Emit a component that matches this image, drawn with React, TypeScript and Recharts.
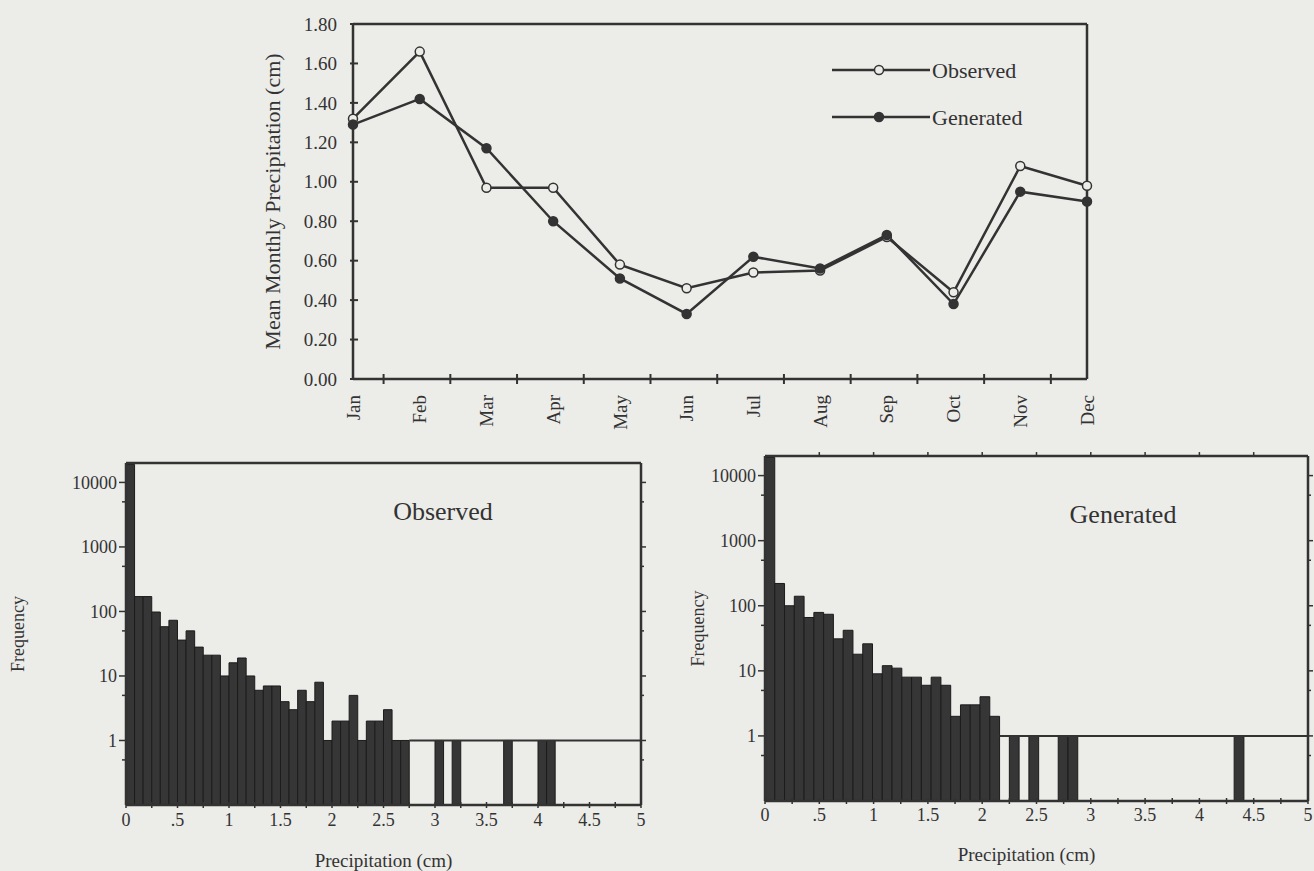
import React from 'react';
import { LineChart, Line, BarChart, Bar, XAxis, YAxis, Legend, ReferenceLine } from 'recharts';

const MONTHS = ['Jan', 'Feb', 'Mar', 'Apr', 'May', 'Jun', 'Jul', 'Aug', 'Sep', 'Oct', 'Nov', 'Dec'];
const OBSERVED_MEAN = [1.32, 1.66, 0.97, 0.97, 0.58, 0.46, 0.54, 0.55, 0.72, 0.44, 1.08, 0.98];
const GENERATED_MEAN = [1.29, 1.42, 1.17, 0.8, 0.51, 0.33, 0.62, 0.56, 0.73, 0.38, 0.95, 0.9];
const MEAN_TICKS = [0, 0.2, 0.4, 0.6, 0.8, 1, 1.2, 1.4, 1.6, 1.8];
const LEGEND_ORDER = ['Observed', 'Generated'];

// daily precipitation histograms: class width (cm) and counts per class
const OBS_BIN = 1 / 12;
const OBS_FREQ = [
  19000, 170, 170, 98, 58, 73, 36, 50, 28, 21, 21, 10, 16, 19, 10, 6, 7, 7, 4, 3, 6, 4, 8, 1, 2, 2, 5, 1, 2, 2,
  3, 1, 1, 0, 0, 0, 1, 0, 1, 0, 0, 0, 0, 0, 1, 0, 0, 0, 1, 1,
];
const GEN_BIN = 0.09;
const GEN_FREQ = [
  19000, 220, 100, 140, 66, 79, 74, 31, 42, 18, 26, 9, 12, 11, 8, 8, 6, 8, 6, 2, 3, 3, 4, 2, 0, 1, 0, 1, 0, 0,
  1, 1, 0, 0, 0, 0, 0, 0, 0, 0, 0, 0, 0, 0, 0, 0, 0, 0, 1,
];
const FREQ_MIN = 0.1;
const FREQ_MAX = 20000;
const FREQ_TICKS = [0.5, 1, 5, 10, 50, 100, 500, 1000, 5000, 10000];
const FREQ_LABELED = [1, 10, 100, 1000, 10000];
const PRECIP_MAX = 5;
const PRECIP_TICKS = [0, 0.25, 0.5, 0.75, 1, 1.25, 1.5, 1.75, 2, 2.25, 2.5, 2.75, 3, 3.25, 3.5, 3.75, 4, 4.25, 4.5, 4.75, 5];
const PRECIP_LABELS = ['0', '.5', '1', '1.5', '2', '2.5', '3', '3.5', '4', '4.5', '5'];

const PAPER = '#ecece9';
const INK = '#333333';
const BAR_FILL = '#363636';
const FONT = '"Liberation Serif", "Times New Roman", serif';
const AXIS = { stroke: INK, strokeWidth: 2.5 };

const meanData = MONTHS.map((month, i) => ({
  month,
  observed: OBSERVED_MEAN[i],
  generated: GENERATED_MEAN[i],
}));

const TOP_PLOT_W = 734;
const BAND = TOP_PLOT_W / MONTHS.length;

const isHalf = (v: number) => Math.abs(v * 2 - Math.round(v * 2)) < 1e-6;

function MeanTick({ x, y, payload }: any) {
  return (
    <g>
      <line x1={x - 3} x2={x + 5} y1={y} y2={y} stroke={INK} strokeWidth={2} />
      <text x={x - 16} y={y} dy="0.35em" textAnchor="end" fontSize={19} fill={INK} fontFamily={FONT}>
        {Number(payload.value).toFixed(2)}
      </text>
    </g>
  );
}

function MonthTick({ x, y, payload, index }: any) {
  const ly = y + 16;
  return (
    <g>
      {index < MONTHS.length - 1 && (
        <line x1={x + BAND / 2} x2={x + BAND / 2} y1={y - 5} y2={y + 5} stroke={INK} strokeWidth={2} />
      )}
      <text
        x={x}
        y={ly}
        dy="0.35em"
        transform={`rotate(-90 ${x} ${ly})`}
        textAnchor="end"
        fontSize={19}
        fill={INK}
        fontFamily={FONT}
      >
        {payload.value}
      </text>
    </g>
  );
}

function MeanLegend({ payload }: any) {
  const items = [...(payload || [])].sort(
    (a: any, b: any) => LEGEND_ORDER.indexOf(a.value) - LEGEND_ORDER.indexOf(b.value)
  );
  return (
    <svg width={200} height={80}>
      {items.map((entry: any, i: number) => {
        const cy = 15 + i * 47;
        const filled = entry.dataKey === 'generated';
        return (
          <g key={entry.value}>
            <line x1={0} x2={98} y1={cy} y2={cy} stroke={INK} strokeWidth={2.5} />
            <circle cx={47} cy={cy} r={4.5} fill={filled ? INK : PAPER} stroke={INK} strokeWidth={1.5} />
            <text x={100} y={cy} dy="0.35em" fontSize={22} fill={INK} fontFamily={FONT}>
              {entry.value}
            </text>
          </g>
        );
      })}
    </svg>
  );
}

function FreqTick({ x, y, payload }: any) {
  const major = FREQ_LABELED.includes(payload.value);
  return (
    <g>
      <line x1={x - (major ? 7 : 4)} x2={x} y1={y} y2={y} stroke={INK} strokeWidth={1.5} />
      {major && (
        <text x={x - 9} y={y} dy="0.35em" textAnchor="end" fontSize={18} fill={INK} fontFamily={FONT}>
          {payload.value}
        </text>
      )}
    </g>
  );
}

function FreqRightTick({ x, y, payload }: any) {
  const major = FREQ_LABELED.includes(payload.value);
  return <line x1={x} x2={x + (major ? 5 : 3)} y1={y} y2={y} stroke={INK} strokeWidth={1.5} />;
}

function PrecipTick({ x, y, payload, gap }: any) {
  const v = payload.value;
  return (
    <g>
      <line x1={x} x2={x} y1={y - 3} y2={y + 3} stroke={INK} strokeWidth={1.5} />
      {isHalf(v) && (
        <text x={x} y={y + gap} dy="0.35em" textAnchor="middle" fontSize={18} fill={INK} fontFamily={FONT}>
          {PRECIP_LABELS[Math.round(v * 2)]}
        </text>
      )}
    </g>
  );
}

interface HistProps {
  freq: number[];
  bin: number;
  title: string;
  left: number;
  top: number;
  width: number;
  height: number;
  margin: { top: number; right: number; bottom: number; left: number };
  yAxisWidth: number;
  xAxisHeight: number;
  rightWidth: number;
  freqLabelOffset: number;
  tickGap: number;
  titleX: number;
  titleY: number;
  labelDx?: number;
  topTicks?: boolean;
}

function Histogram(p: HistProps) {
  const data = p.freq.map((f, k) => ({ x: (k + 0.5) * p.bin, f })).filter((d) => d.f > 0);
  const plotW = p.width - p.margin.left - p.margin.right - p.yAxisWidth - p.rightWidth;
  const barSize = (p.bin * plotW) / PRECIP_MAX - 0.01;
  const tailStart = p.freq.indexOf(0) * p.bin;
  const topMarks = p.topTicks ? PRECIP_TICKS.filter((v) => isHalf(v) && v > 0 && v < PRECIP_MAX) : [];

  return (
    <div style={{ position: 'absolute', left: p.left, top: p.top, width: p.width, height: p.height }}>
      <BarChart width={p.width} height={p.height} data={data} margin={p.margin}>
        <XAxis
          dataKey="x"
          type="number"
          domain={[0, PRECIP_MAX]}
          ticks={PRECIP_TICKS}
          interval={0}
          height={p.xAxisHeight}
          tickSize={0}
          tickMargin={0}
          tickLine={false}
          axisLine={AXIS}
          tick={(t: any) => <PrecipTick {...t} gap={p.tickGap} />}
          label={{
            value: 'Precipitation (cm)',
            position: 'insideBottom',
            offset: 0,
            dx: p.labelDx || 0,
            fill: INK,
            fontSize: 19,
            fontFamily: FONT,
          }}
        />
        <YAxis
          scale="log"
          domain={[FREQ_MIN, FREQ_MAX]}
          allowDataOverflow
          ticks={FREQ_TICKS}
          interval={0}
          width={p.yAxisWidth}
          tickSize={0}
          tickMargin={0}
          tickLine={false}
          axisLine={AXIS}
          tick={(t: any) => <FreqTick {...t} />}
          label={{
            value: 'Frequency',
            angle: -90,
            position: 'insideLeft',
            offset: p.freqLabelOffset,
            fill: INK,
            fontSize: 18,
            fontFamily: FONT,
            style: { textAnchor: 'middle' },
          }}
        />
        <YAxis
          yAxisId="right"
          orientation="right"
          scale="log"
          domain={[FREQ_MIN, FREQ_MAX]}
          allowDataOverflow
          ticks={FREQ_TICKS}
          interval={0}
          width={p.rightWidth}
          tickSize={0}
          tickMargin={0}
          tickLine={false}
          axisLine={AXIS}
          tick={(t: any) => <FreqRightTick {...t} />}
        />
        <ReferenceLine
          segment={[
            { x: tailStart, y: 1 },
            { x: PRECIP_MAX, y: 1 },
          ]}
          stroke={INK}
          strokeWidth={2}
        />
        <Bar dataKey="f" fill={BAR_FILL} stroke="#1c1c1c" strokeWidth={1} barSize={barSize} isAnimationActive={false} />
        <ReferenceLine y={FREQ_MAX} stroke={INK} strokeWidth={2.5} ifOverflow="visible" />
        {topMarks.map((v) => (
          <ReferenceLine
            key={v}
            segment={[
              { x: v, y: FREQ_MAX },
              { x: v, y: FREQ_MAX * 1.15 },
            ]}
            stroke={INK}
            strokeWidth={1.5}
            ifOverflow="visible"
          />
        ))}
      </BarChart>
      <div
        style={{
          position: 'absolute',
          left: p.titleX,
          top: p.titleY,
          transform: 'translate(-50%, -50%)',
          fontSize: 26,
          fontFamily: FONT,
          color: INK,
          whiteSpace: 'nowrap',
        }}
      >
        {p.title}
      </div>
    </div>
  );
}

export default function App() {
  return (
    <div
      style={{
        position: 'absolute',
        left: 0,
        top: 0,
        width: 1314,
        height: 871,
        background: PAPER,
        fontFamily: FONT,
        overflow: 'hidden',
      }}
    >
      <div style={{ position: 'absolute', left: 0, top: 0 }}>
        <LineChart width={1314} height={445} data={meanData} margin={{ top: 23, right: 226, bottom: 16, left: 263 }}>
          <XAxis
            dataKey="month"
            interval={0}
            height={50}
            tickSize={0}
            tickMargin={0}
            tickLine={false}
            axisLine={AXIS}
            tick={(t: any) => <MonthTick {...t} />}
          />
          <XAxis xAxisId="top" dataKey="month" orientation="top" height={1} tick={false} tickLine={false} axisLine={AXIS} />
          <YAxis
            domain={[0, 1.8]}
            ticks={MEAN_TICKS}
            interval={0}
            width={90}
            tickSize={0}
            tickMargin={0}
            tickLine={false}
            axisLine={AXIS}
            tick={(t: any) => <MeanTick {...t} />}
            label={{
              value: 'Mean Monthly Precipitation (cm)',
              angle: -90,
              position: 'insideLeft',
              offset: 9,
              fill: INK,
              fontSize: 22,
              fontFamily: FONT,
              style: { textAnchor: 'middle' },
            }}
          />
          <YAxis yAxisId="right" orientation="right" domain={[0, 1.8]} width={1} tick={false} tickLine={false} axisLine={AXIS} />
          <Legend
            layout="horizontal"
            verticalAlign="middle"
            align="center"
            wrapperStyle={{ left: 832, top: 55, width: 200 }}
            content={(props: any) => <MeanLegend {...props} />}
          />
          <Line
            dataKey="observed"
            name="Observed"
            stroke={INK}
            strokeWidth={2.5}
            dot={{ r: 4.5, fill: PAPER, stroke: INK, strokeWidth: 1.5 }}
            isAnimationActive={false}
          />
          <Line
            dataKey="generated"
            name="Generated"
            stroke={INK}
            strokeWidth={2.5}
            dot={{ r: 4.5, fill: INK, stroke: INK, strokeWidth: 1.5 }}
            isAnimationActive={false}
          />
        </LineChart>
      </div>
      <Histogram
        freq={OBS_FREQ}
        bin={OBS_BIN}
        title="Observed"
        left={0}
        top={440}
        width={660}
        height={431}
        margin={{ top: 23, right: 9, bottom: 4, left: 14 }}
        yAxisWidth={112}
        xAxisHeight={62}
        rightWidth={10}
        freqLabelOffset={4}
        tickGap={15}
        titleX={443}
        titleY={72}
      />
      <Histogram
        freq={GEN_FREQ}
        bin={GEN_BIN}
        title="Generated"
        left={660}
        top={440}
        width={654}
        height={431}
        margin={{ top: 16, right: 0, bottom: 10, left: 5 }}
        yAxisWidth={100}
        xAxisHeight={60}
        rightWidth={6}
        freqLabelOffset={33}
        tickGap={14}
        titleX={463}
        titleY={75}
        labelDx={-10}
        topTicks
      />
    </div>
  );
}
